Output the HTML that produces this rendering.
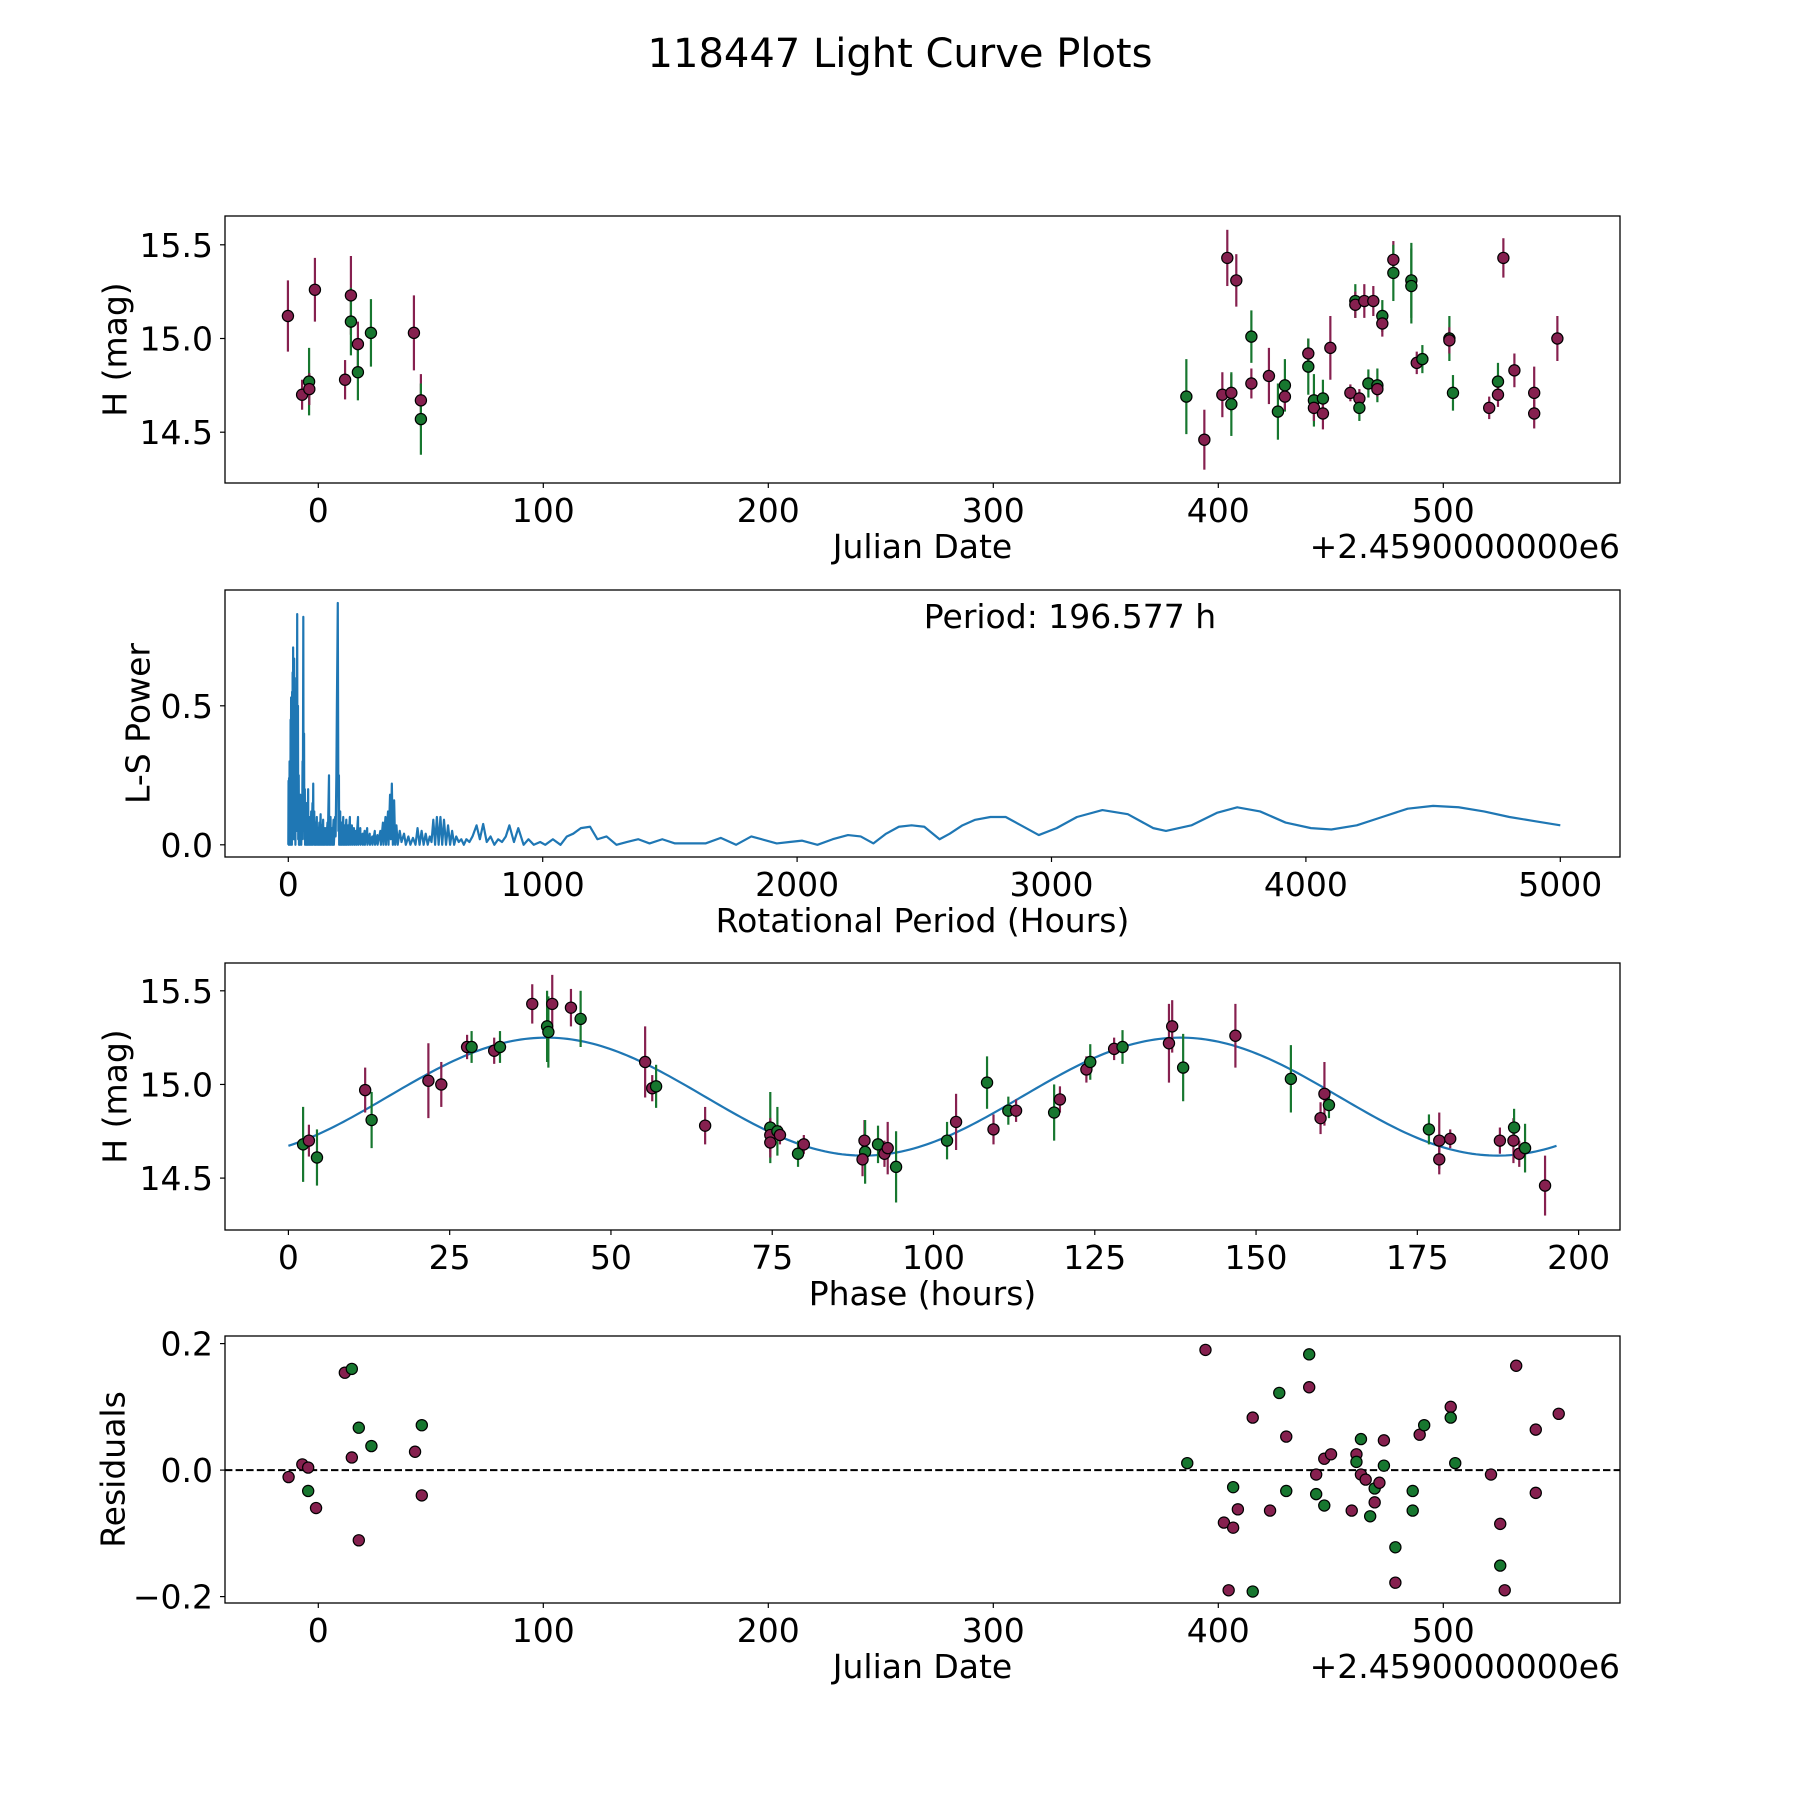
<!DOCTYPE html>
<html><head><meta charset="utf-8"><title>118447 Light Curve Plots</title>
<style>
html,body{margin:0;padding:0;background:#fff;}
svg{display:block;font-family:"DejaVu Sans","Liberation Sans",sans-serif;}
</style></head>
<body>
<svg id="fig" xmlns="http://www.w3.org/2000/svg" width="1800" height="1800" viewBox="0 0 1800 1800">
<rect x="0" y="0" width="1800" height="1800" fill="#fff"/>
<text x="900" y="67" font-size="40" text-anchor="middle">118447 Light Curve Plots</text>
</svg>
<script>
// ---------- Panel 1: raw light curve ----------
const lcDays = [-13.5,-7.2,-4.1,-4.0,-1.5,11.9,14.5,14.5,17.6,17.6,23.4,42.5,45.6,45.6,
 385.8,393.8,401.8,404.0,405.8,405.8,408.0,414.7,414.7,422.5,426.5,429.6,429.6,440.0,440.0,442.5,442.5,446.5,446.5,449.8,
 458.7,460.9,460.9,462.7,462.7,464.9,466.7,468.9,470.7,470.7,472.9,472.9,477.8,477.8,485.8,485.8,488.2,490.7,502.7,502.7,
 504.3,520.4,524.3,524.3,526.7,531.6,540.4,540.4,550.7];
const lcMags = [15.12,14.70,14.77,14.73,15.26,14.78,15.23,15.09,14.97,14.82,15.03,15.03,14.67,14.57,
 14.69,14.46,14.70,15.43,14.71,14.65,15.31,15.01,14.76,14.80,14.61,14.75,14.69,14.92,14.85,14.67,14.63,14.68,14.60,14.95,
 14.71,15.20,15.18,14.68,14.63,15.20,14.76,15.20,14.75,14.73,15.12,15.08,15.42,15.35,15.31,15.28,14.87,14.89,15.00,14.99,
 14.71,14.63,14.77,14.70,15.43,14.83,14.71,14.60,15.00];
const lcErrs = [0.19,0.08,0.18,0.085,0.17,0.105,0.21,0.18,0.12,0.15,0.18,0.2,0.14,0.19,
 0.2,0.16,0.12,0.15,0.1,0.17,0.14,0.14,0.08,0.15,0.15,0.14,0.07,0.08,0.15,0.14,0.07,0.1,0.085,0.17,
 0.045,0.09,0.07,0.05,0.07,0.09,0.075,0.08,0.09,0.04,0.085,0.07,0.1,0.15,0.2,0.2,0.06,0.075,0.12,0.07,
 0.095,0.06,0.1,0.065,0.105,0.09,0.14,0.08,0.12];
const lcBands = ['m','m','g','m','m','m','m','g','m','g','g','m','m','g',
 'g','m','m','m','m','g','m','g','m','m','g','g','m','m','g','g','m','g','m','m',
 'm','g','m','m','g','m','g','m','g','m','g','m','m','g','g','g','m','g','g','m',
 'g','m','g','m','m','m','m','m','m'];
const jdTicks = [0,100,200,300,400,500];
const magTicks = [14.5,15.0,15.5];
const magTickLabels = ['14.5','15.0','15.5'];

// ---------- Panel 2: Lomb-Scargle periodogram ----------
const lsPeriodDense = [
 0,1,2,3,4,5,6,7,8,9,
 10,11,12,13,14,15,16,17,18,19,
 20,21,22,23,24,25,26,27,28,29,
 30,32,33,35,36,38,39,41,42,44,
 45,47,48,50,51,53,54,56,57,59,
 60,62,63,65,66,68,69,71,72,74,
 75,78,79,82,83,86,87,90,91,95,
 96,98,99,102,103,107,108,112,113,117,
 118,122,123,127,128,132,133,137,138,142,
 143,148,149,154,155,160,161,166,167,172,
 173,178,179,184,186,189,191,193,194.5,196,
 197,199,200,204,205,210,211,216,217,222,
 223,228,229,235,236,242,243,250,251,258,
 259,266,267,274,275,283,284,292,293,300,
 301,310,311,320,321,330,331,340,341,350,
 351,362,364,372,374,382,384,392,394,400,
 403,407,411,416,420,425,430,438];
const lsPowerDense = [
 0,.23,0,.24,.02,.30,0,.28,.01,.45,
 0,.53,.02,.35,0,.55,.05,.62,.03,.71,
 .05,.60,.02,.67,.1,.50,.02,.40,0,.30,
 .05,.6,.1,.83,.05,.5,.02,.25,0,.15,
 0,.18,.01,.12,0,.1,.02,.3,.05,.82,
 .1,.4,.02,.2,0,.12,.01,.15,0,.1,
 0,.2,0,.1,0,.08,0,.12,0,.15,
 0,.22,.02,.12,0,.08,0,.1,0,.06,
 0,.08,0,.11,0,.07,0,.09,0,.06,
 0,.06,0,.08,0,.25,0,.1,0,.06,
 0,.09,0,.1,.03,.25,.5,.7,.87,.4,
 .05,.25,0,.12,0,.08,0,.1,0,.07,
 0,.09,0,.07,0,.1,0,.07,0,.06,
 0,.05,0,.1,0,.06,0,.04,0,.05,
 0,.06,0,.04,0,.03,0,.05,0,.035,
 0,.05,0,.08,0,.1,0,.12,0,.18,
 .02,.22,0,.16,0,.07,0,.05];
const lsPeriodSmooth = [
 445,455,462,472,480,490,500,508,516,524,
 532,540,548,556,563,570,577,584,591,598,
 605,612,620,628,636,644,652,660,670,680,
 690,700,712,724,740,753,766,780,795,810,
 825,840,855,869,887,904,925,944,965,990,
 1010,1040,1070,1095,1120,1150,1186,1215,1251,1290,
 1330,1376,1420,1470,1520,1580,1640,1700,1760,1820,
 1860,1920,1970,2020,2080,2140,2200,2250,2300,2350,
 2400,2450,2500,2560,2600,2650,2700,2760,2820,2880,
 2950,3020,3100,3200,3300,3400,3450,3550,3650,3730,
 3820,3920,4020,4100,4200,4300,4400,4500,4600,4700,
 4800,4900,5000];
const lsPowerSmooth = [
 .01,.04,0,.03,0,.025,0,.06,0,.05,
 0,.04,0,.03,.01,.09,0,.1,0,.1,
 0,.09,0,.07,0,.05,0,.03,.01,.02,
 0,.02,.01,.03,.07,.02,.075,.01,.03,0,
 .02,.01,.03,.07,.01,.06,0,.02,0,.01,
 0,.02,0,.03,.04,.06,.065,.02,.03,0,
 .01,.02,.005,.02,.005,.005,.005,.025,0,.03,
 .02,.005,.01,.015,0,.02,.035,.03,.005,.04,
 .065,.07,.065,.02,.04,.07,.09,.1,.1,.07,
 .035,.06,.1,.125,.11,.06,.05,.07,.115,.135,
 .12,.08,.06,.055,.07,.1,.13,.14,.135,.12,
 .1,.085,.07];
const lsTicks = [0,1000,2000,3000,4000,5000];
const powTicks = [0.0,0.5];
const powTickLabels = ['0.0','0.5'];
const bestPeriod = 196.577;

// ---------- Panel 3: phased light curve ----------
const phPhase = [2.28,3.18,4.43,11.9,12.9,21.7,23.7,27.7,28.4,31.9,32.8,37.8,40.1,40.3,40.9,43.8,45.3,55.3,56.4,57.0,64.6,74.7,74.7,74.7,75.8,76.2,79.0,79.9,89.3,89.4,89.0,91.4,92.4,92.9,94.2,
 102.1,103.5,108.3,109.3,111.6,112.8,118.7,119.6,123.7,124.3,128.0,129.3,136.5,137.0,138.7,146.8,155.4,160.0,160.6,161.3,176.8,178.4,178.4,180.1,187.8,189.9,190.0,190.8,191.7,194.8];
const phMags = [14.68,14.70,14.61,14.97,14.81,15.02,15.00,15.20,15.20,15.18,15.20,15.43,15.31,15.28,15.43,15.41,15.35,15.12,14.98,14.99,14.78,14.77,14.73,14.69,14.75,14.73,14.63,14.68,14.70,14.64,14.60,14.68,14.63,14.66,14.56,
 14.70,14.80,15.01,14.76,14.86,14.86,14.85,14.92,15.08,15.12,15.19,15.20,15.22,15.31,15.09,15.26,15.03,14.82,14.95,14.89,14.76,14.70,14.60,14.71,14.70,14.70,14.77,14.63,14.66,14.46];
const phErrs = [0.2,0.085,0.15,0.12,0.15,0.2,0.12,0.065,0.085,0.07,0.085,0.105,0.19,0.19,0.155,0.1,0.15,0.19,0.07,0.115,0.1,0.19,0.09,0.08,0.13,0.05,0.07,0.05,0.11,0.17,0.09,0.1,0.07,0.14,0.19,
 0.1,0.15,0.14,0.08,0.075,0.06,0.15,0.07,0.07,0.095,0.06,0.09,0.21,0.14,0.18,0.17,0.18,0.085,0.17,0.07,0.08,0.15,0.08,0.05,0.07,0.12,0.1,0.07,0.13,0.16];
const phBands = ['g','m','g','m','g','m','m','m','g','m','g','m','g','g','m','m','g','m','m','g','m','g','m','m','g','m','g','m','m','g','m','g','m','m','g',
 'g','m','g','m','g','m','g','m','m','g','m','g','m','m','g','m','g','m','m','g','g','m','m','m','m','m','g','m','g','m'];
const modelParams = [14.935, 0.315, 40.0, 98.29]; // mean, amplitude, peak phase, half period
const phaseTicks = [0,25,50,75,100,125,150,175,200];

// ---------- Panel 4: residuals ----------
const resDays = [-13.2,-7.1,-4.5,-4.5,-1.0,11.8,14.9,14.9,18.0,18.0,23.6,43.0,46.0,46.0,
 386.2,394.3,402.5,404.6,406.6,406.6,408.7,415.3,415.3,423.0,427.1,430.2,430.2,440.4,440.4,443.5,443.5,447.1,447.1,450.1,
 459.3,461.4,461.4,463.4,463.4,465.5,467.5,469.5,469.5,471.6,473.6,473.6,478.7,478.7,486.4,486.4,489.5,491.5,503.3,503.3,
 505.3,521.2,525.3,525.3,527.3,532.4,541.1,541.1,551.3];
const resVals = [-0.011,0.009,0.004,-0.033,-0.06,0.154,0.160,0.02,0.067,-0.111,0.038,0.029,0.071,-0.04,
 0.011,0.19,-0.083,-0.19,-0.027,-0.091,-0.062,0.083,-0.192,-0.064,0.122,0.053,-0.033,0.183,0.131,-0.007,-0.038,0.018,-0.056,0.025,
 -0.064,0.025,0.013,0.049,-0.007,-0.015,-0.073,-0.051,-0.029,-0.02,0.047,0.007,-0.122,-0.178,-0.033,-0.064,0.056,0.071,0.1,0.083,
 0.011,-0.007,-0.085,-0.151,-0.19,0.165,0.064,-0.036,0.089];
const resBands = ['m','m','m','g','m','m','g','m','g','m','g','m','g','m',
 'g','m','m','m','g','m','m','m','g','m','g','m','g','g','m','m','g','m','g','m',
 'm','m','g','g','m','m','g','m','g','m','m','g','g','m','g','g','m','g','m','g',
 'g','m','m','g','m','m','m','m','m'];
const resTicks = [-0.2,0.0,0.2];
const resTickLabels = ['\u22120.2','0.0','0.2'];

// ---------- drawing ----------
const NS = 'http://www.w3.org/2000/svg';
const svg = document.getElementById('fig');
const COL = {m:'#86204f', g:'#17772f'};
const FS = 33;
function mk(tag, parent, attrs){
  const e = document.createElementNS(NS, tag);
  for (const k in attrs) e.setAttribute(k, attrs[k]);
  parent.appendChild(e);
  return e;
}
const L = 225, R = 1620, H = 267;
const tops = [216, 590, 963, 1336];

const xJD = d => 318.3 + 2.25 * d;
const yMag1 = m => 244.8 + (15.5 - m) * 187.4;
const xLS = p => 288.3 + 0.2544 * p;
const yPow = v => 844.8 - 278 * v;
const xPh = p => 288.4 + 6.451 * p;
const yMag3 = m => 990.8 + (15.5 - m) * 187.3;
const yRes = r => 1470.1 - 632.5 * r;

function axesFrame(i, name){
  const g = mk('g', svg, {});
  
  
  const clip = mk('clipPath', svg, {id:'clip'+i});
  mk('rect', clip, {x:L, y:tops[i], width:R-L, height:H});
  return g;
}
function frameRect(g, i){
  const r = mk('rect', g, {x:L, y:tops[i], width:R-L, height:H, fill:'none', stroke:'#000', 'stroke-width':1.3});
  
  
}
function xTicks(g, i, vals, labels, fx){
  const b = tops[i] + H;
  vals.forEach((v, k) => {
    const x = fx(v);
    const t = mk('line', g, {x1:x, x2:x, y1:b, y2:b+5, stroke:'#000', 'stroke-width':1.2});
    
    
    const lb = mk('text', g, {x:x, y:b+39, 'font-size':FS, 'text-anchor':'middle'});
    lb.textContent = labels[k];
    
    
  });
}
function yTicks(g, vals, labels, fy){
  vals.forEach((v, k) => {
    const y = fy(v);
    const t = mk('line', g, {x1:L-5, x2:L, y1:y, y2:y, stroke:'#000', 'stroke-width':1.2});
    
    
    const lb = mk('text', g, {x:L-12, y:y+12, 'font-size':FS, 'text-anchor':'end'});
    lb.textContent = labels[k];
    
    
  });
}
function labels(g, i, xl, yl, ylx, offset){
  const b = tops[i] + H;
  const xt = mk('text', g, {x:(L+R)/2, y:b+75, 'font-size':FS, 'text-anchor':'middle'});
  xt.textContent = xl;
  
  
  const cy = tops[i] + H/2;
  const yt = mk('text', g, {x:ylx, y:cy, 'font-size':FS, 'text-anchor':'middle', 'dominant-baseline':'central', transform:'rotate(-90 '+ylx+' '+cy+')'});
  yt.textContent = yl;
  
  
  if (offset){
    const ot = mk('text', g, {x:R, y:b+75, 'font-size':FS, 'text-anchor':'end'});
    ot.textContent = '+2.4590000000e6';
    
    
  }
}
function errPoints(g, i, xs, ys, es, bands, fx, fy){
  const pg = mk('g', g, {'clip-path':'url(#clip'+i+')'});
  xs.forEach((x, k) => {
    const px = fx(x);
    const e = mk('line', pg, {x1:px, x2:px, y1:fy(ys[k]+es[k]), y2:fy(ys[k]-es[k]), stroke:COL[bands[k]], 'stroke-width':2.2});
    
    
  });
  xs.forEach((x, k) => {
    const c = mk('circle', pg, {cx:fx(x), cy:fy(ys[k]), r:5.6, fill:COL[bands[k]], stroke:'#000', 'stroke-width':1.2});
    
    
  });
}

// Panel 1
let g1 = axesFrame(0, 'raw-light-curve-panel');
errPoints(g1, 0, lcDays, lcMags, lcErrs, lcBands, xJD, yMag1);
frameRect(g1, 0);
xTicks(g1, 0, jdTicks, jdTicks.map(String), xJD);
yTicks(g1, magTicks, magTickLabels, yMag1);
labels(g1, 0, 'Julian Date', 'H (mag)', 115, true);

// Panel 2
let g2 = axesFrame(1, 'periodogram-panel');
const lsPeriod = lsPeriodDense.concat(lsPeriodSmooth);
const lsPower = lsPowerDense.concat(lsPowerSmooth);
let d2 = lsPeriod.map((p, k) => (k ? 'L' : 'M') + xLS(p).toFixed(2) + ' ' + yPow(lsPower[k]).toFixed(2)).join(' ');
const lsLine = mk('path', g2, {d:d2, fill:'none', stroke:'#1f77b4', 'stroke-width':2.2, 'stroke-linejoin':'round', 'clip-path':'url(#clip1)'});


frameRect(g2, 1);
xTicks(g2, 1, lsTicks, lsTicks.map(String), xLS);
yTicks(g2, powTicks, powTickLabels, yPow);
labels(g2, 1, 'Rotational Period (Hours)', 'L-S Power', 138, false);
const pt = mk('text', g2, {x:1070, y:628, 'font-size':FS, 'text-anchor':'middle'});
pt.textContent = 'Period: ' + bestPeriod.toFixed(3) + ' h';



// Panel 3
let g3 = axesFrame(2, 'phased-light-curve-panel');
const nS = 300;
let d3 = '';
for (let k = 0; k <= nS; k++){
  const ph = bestPeriod * k / nS;
  const m = modelParams[0] + modelParams[1] * Math.cos(2*Math.PI*(ph - modelParams[2]) / modelParams[3]);
  d3 += (k ? 'L' : 'M') + xPh(ph).toFixed(2) + ' ' + yMag3(m).toFixed(2) + ' ';
}
const mLine = mk('path', g3, {d:d3, fill:'none', stroke:'#1f77b4', 'stroke-width':2.2});


errPoints(g3, 2, phPhase, phMags, phErrs, phBands, xPh, yMag3);
frameRect(g3, 2);
xTicks(g3, 2, phaseTicks, phaseTicks.map(String), xPh);
yTicks(g3, magTicks, magTickLabels, yMag3);
labels(g3, 2, 'Phase (hours)', 'H (mag)', 115, false);

// Panel 4
let g4 = axesFrame(3, 'residuals-panel');
const zl = mk('line', g4, {x1:L, x2:R, y1:yRes(0), y2:yRes(0), stroke:'#000', 'stroke-width':2, 'stroke-dasharray':'7.4 3.2'});


const rg = mk('g', g4, {'clip-path':'url(#clip3)'});
resDays.forEach((d, k) => {
  const c = mk('circle', rg, {cx:xJD(d), cy:yRes(resVals[k]), r:5.6, fill:COL[resBands[k]], stroke:'#000', 'stroke-width':1.2});
  
  
});
frameRect(g4, 3);
xTicks(g4, 3, jdTicks, jdTicks.map(String), xJD);
yTicks(g4, resTicks, resTickLabels, yRes);
labels(g4, 3, 'Julian Date', 'Residuals', 113, true);
</script>
</body></html>
